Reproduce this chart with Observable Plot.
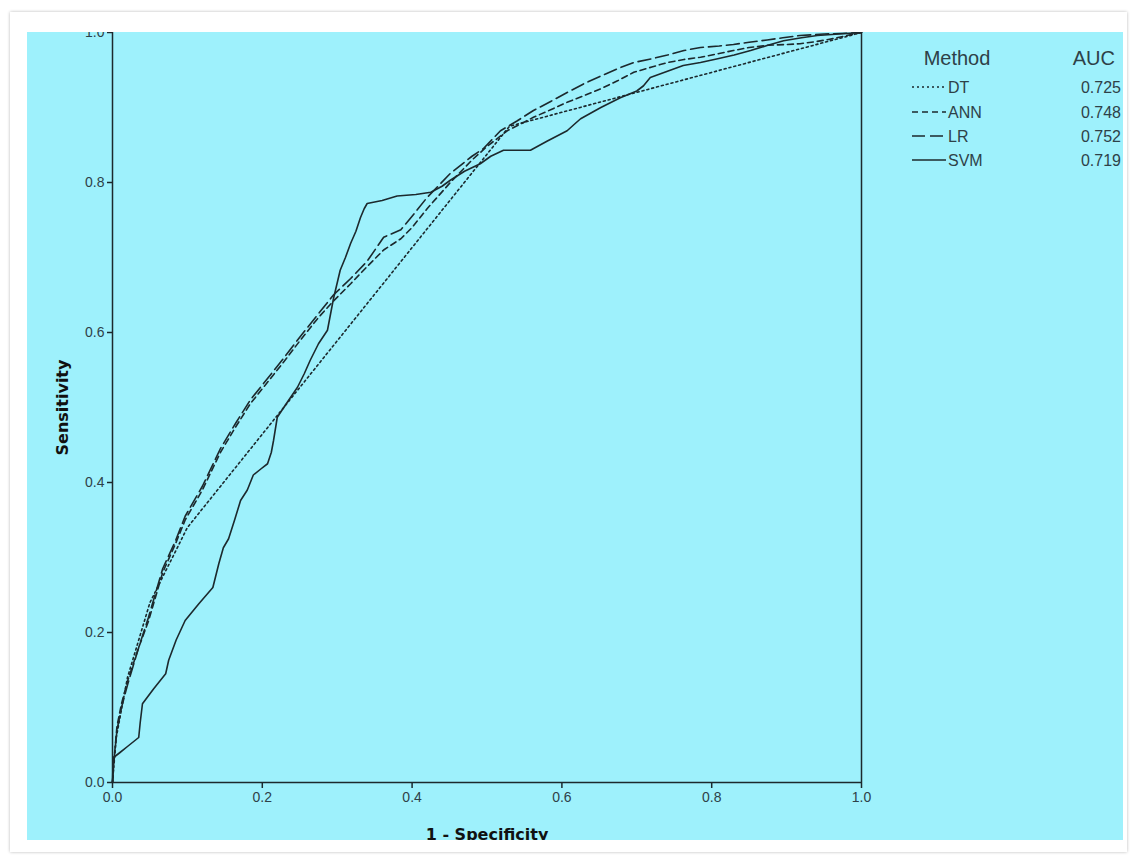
<!DOCTYPE html>
<html><head><meta charset="utf-8">
<script src="https://cdn.jsdelivr.net/npm/d3@7"></script>
<script src="https://cdn.jsdelivr.net/npm/@observablehq/plot@0.6"></script>
<style>
body{margin:0;background:#fff;}
#page{position:relative;width:1130px;height:855px;overflow:hidden;}
#card{position:absolute;left:10px;top:12px;width:1117px;height:840px;background:#fff;box-shadow:0 0 3px rgba(0,0,0,0.28);}
#panel{position:absolute;left:27px;top:32px;width:1096px;height:808px;background:#9ef1fc;}
#chart{position:absolute;left:27px;top:32px;width:1096px;height:808px;overflow:hidden;}
#overlay{position:absolute;left:0;top:0;}
</style>
</head><body>
<div id="page"><div id="card"></div><div id="panel"></div><div id="chart"></div><svg id="overlay" width="1130" height="855"></svg></div>
<script>
// ---- data ----
const methods = ["DT", "ANN", "LR", "SVM"];
const aucValues = ["0.725", "0.748", "0.752", "0.719"];
const axisTicks = [0, 0.2, 0.4, 0.6, 0.8, 1.0];

const dtX = [0, 0.005, 0.02, 0.05, 0.1, 0.53, 1];
const dtY = [0, 0.06, 0.14, 0.24, 0.34, 0.875, 1];

const annX = [0, 0.002, 0.006, 0.012, 0.02, 0.035, 0.048, 0.067, 0.084, 0.097, 0.12, 0.144, 0.165, 0.184, 0.2, 0.228, 0.251, 0.275, 0.295, 0.318, 0.34, 0.362, 0.385, 0.4, 0.42, 0.451, 0.48, 0.5, 0.527, 0.545, 0.562, 0.585, 0.607, 0.63, 0.652, 0.675, 0.696, 0.72, 0.741, 0.763, 0.785, 0.81, 0.829, 0.85, 0.874, 0.9, 0.918, 0.94, 0.963, 0.985, 1];
const annY = [0, 0.03, 0.075, 0.105, 0.135, 0.18, 0.215, 0.28, 0.318, 0.35, 0.39, 0.44, 0.475, 0.505, 0.525, 0.56, 0.59, 0.62, 0.642, 0.665, 0.688, 0.71, 0.725, 0.74, 0.765, 0.8, 0.83, 0.848, 0.869, 0.878, 0.887, 0.897, 0.907, 0.916, 0.925, 0.936, 0.947, 0.954, 0.96, 0.964, 0.967, 0.972, 0.976, 0.98, 0.983, 0.984, 0.985, 0.988, 0.992, 0.997, 1];

const lrX = [0, 0.002, 0.006, 0.012, 0.02, 0.035, 0.048, 0.067, 0.084, 0.097, 0.12, 0.144, 0.165, 0.184, 0.2, 0.228, 0.251, 0.275, 0.295, 0.318, 0.34, 0.362, 0.385, 0.4, 0.42, 0.451, 0.48, 0.495, 0.518, 0.54, 0.562, 0.585, 0.607, 0.63, 0.652, 0.675, 0.696, 0.72, 0.741, 0.763, 0.785, 0.81, 0.829, 0.85, 0.874, 0.895, 0.918, 0.95, 0.98, 1];
const lrY = [0, 0.03, 0.07, 0.1, 0.13, 0.18, 0.22, 0.285, 0.322, 0.355, 0.395, 0.445, 0.48, 0.51, 0.53, 0.565, 0.595, 0.625, 0.65, 0.672, 0.695, 0.727, 0.737, 0.755, 0.78, 0.812, 0.835, 0.845, 0.869, 0.882, 0.896, 0.908, 0.92, 0.932, 0.942, 0.952, 0.96, 0.965, 0.97, 0.976, 0.98, 0.982, 0.984, 0.987, 0.99, 0.993, 0.996, 0.998, 0.999, 1];

const svmX = [0, 0.001, 0.01, 0.02, 0.035, 0.037, 0.04, 0.055, 0.071, 0.075, 0.085, 0.097, 0.115, 0.134, 0.142, 0.148, 0.155, 0.163, 0.171, 0.18, 0.188, 0.198, 0.207, 0.212, 0.215, 0.22, 0.232, 0.247, 0.256, 0.264, 0.275, 0.287, 0.295, 0.304, 0.311, 0.318, 0.325, 0.331, 0.336, 0.34, 0.36, 0.38, 0.405, 0.425, 0.44, 0.451, 0.47, 0.491, 0.505, 0.522, 0.558, 0.58, 0.607, 0.617, 0.625, 0.652, 0.678, 0.7, 0.709, 0.718, 0.74, 0.762, 0.785, 0.808, 0.83, 0.852, 0.875, 0.896, 0.92, 0.941, 0.97, 1];
const svmY = [0, 0.033, 0.04, 0.048, 0.06, 0.08, 0.105, 0.125, 0.145, 0.163, 0.19, 0.216, 0.238, 0.26, 0.292, 0.313, 0.325, 0.35, 0.376, 0.39, 0.41, 0.418, 0.425, 0.44, 0.456, 0.487, 0.505, 0.527, 0.545, 0.563, 0.585, 0.603, 0.645, 0.683, 0.7, 0.719, 0.735, 0.753, 0.765, 0.772, 0.776, 0.782, 0.784, 0.787, 0.795, 0.803, 0.815, 0.825, 0.835, 0.843, 0.843, 0.855, 0.869, 0.878, 0.885, 0.9, 0.913, 0.922, 0.929, 0.94, 0.948, 0.956, 0.96, 0.965, 0.97, 0.976, 0.983, 0.989, 0.993, 0.996, 0.998, 1];

// ---- styling ----
const ink = "#1c292d";
const textInk = "#2e4148";
const dashes = {DT: "2,3", ANN: "6,4", LR: "13,5", SVM: null};
const toRows = (xs, ys) => xs.map((x, i) => ({x, y: ys[i]}));
const series = {DT: toRows(dtX, dtY), ANN: toRows(annX, annY), LR: toRows(lrX, lrY), SVM: toRows(svmX, svmY)};

const lineMarks = methods.map(m => Plot.line(series[m], {
  x: "x", y: "y", stroke: ink, strokeWidth: 1.6,
  ...(dashes[m] ? {strokeDasharray: dashes[m]} : {})
}));

const chart = Plot.plot({
  width: 1096, height: 808,
  marginLeft: 85, marginRight: 262, marginTop: 0, marginBottom: 58,
  x: {domain: [0, 1]},
  y: {domain: [0, 1]},
  style: {background: "transparent", color: textInk, fontFamily: "'Liberation Sans', Arial, sans-serif", fontSize: "14px", overflow: "hidden"},
  marks: [
    Plot.axisX({ticks: axisTicks, tickFormat: d3.format(".1f"), tickSize: 6, tickPadding: 4, label: null, stroke: ink, strokeWidth: 1.5, fontSize: 14}),
    Plot.axisY({ticks: axisTicks, tickFormat: d3.format(".1f"), tickSize: 5, tickPadding: 3, label: null, stroke: ink, strokeWidth: 1.5, fontSize: 14}),
    Plot.ruleX([0, 1], {stroke: ink, strokeWidth: 1.5}),
    Plot.ruleY([0], {stroke: ink, strokeWidth: 1.5}),
    ...lineMarks,
    Plot.text(["1 - Specificity"], {frameAnchor: "bottom", textAnchor: "middle", lineAnchor: "middle", dy: 52, fontWeight: "bold", fontSize: 16, fontFamily: "'DejaVu Sans', sans-serif", fill: "#111"}),
    Plot.text(["Sensitivity"], {frameAnchor: "left", textAnchor: "middle", lineAnchor: "middle", dx: -50, rotate: -90, fontWeight: "bold", fontSize: 16, fontFamily: "'DejaVu Sans', sans-serif", fill: "#111"})
  ]
});
document.getElementById("chart").appendChild(chart);

// ---- legend (page coordinates) ----
const ov = d3.select("#overlay").style("font-family", "'Liberation Sans', Arial, sans-serif");
ov.append("text").attr("x", 957).attr("y", 65).attr("text-anchor", "middle").attr("font-size", 20).attr("fill", textInk).text("Method");
ov.append("text").attr("x", 1115).attr("y", 65).attr("text-anchor", "end").attr("font-size", 20).attr("fill", textInk).text("AUC");
const baselines = [93, 118, 142, 166];
methods.forEach((m, i) => {
  const b = baselines[i];
  ov.append("line").attr("x1", 912).attr("x2", 946).attr("y1", b - 6).attr("y2", b - 6)
    .attr("stroke", ink).attr("stroke-width", 1.5).attr("stroke-dasharray", dashes[m] || null);
  ov.append("text").attr("x", 948).attr("y", b).attr("font-size", 16).attr("fill", textInk).text(m);
  ov.append("text").attr("x", 1121).attr("y", b).attr("text-anchor", "end").attr("font-size", 16).attr("fill", textInk).text(aucValues[i]);
});
</script>
</body></html>
